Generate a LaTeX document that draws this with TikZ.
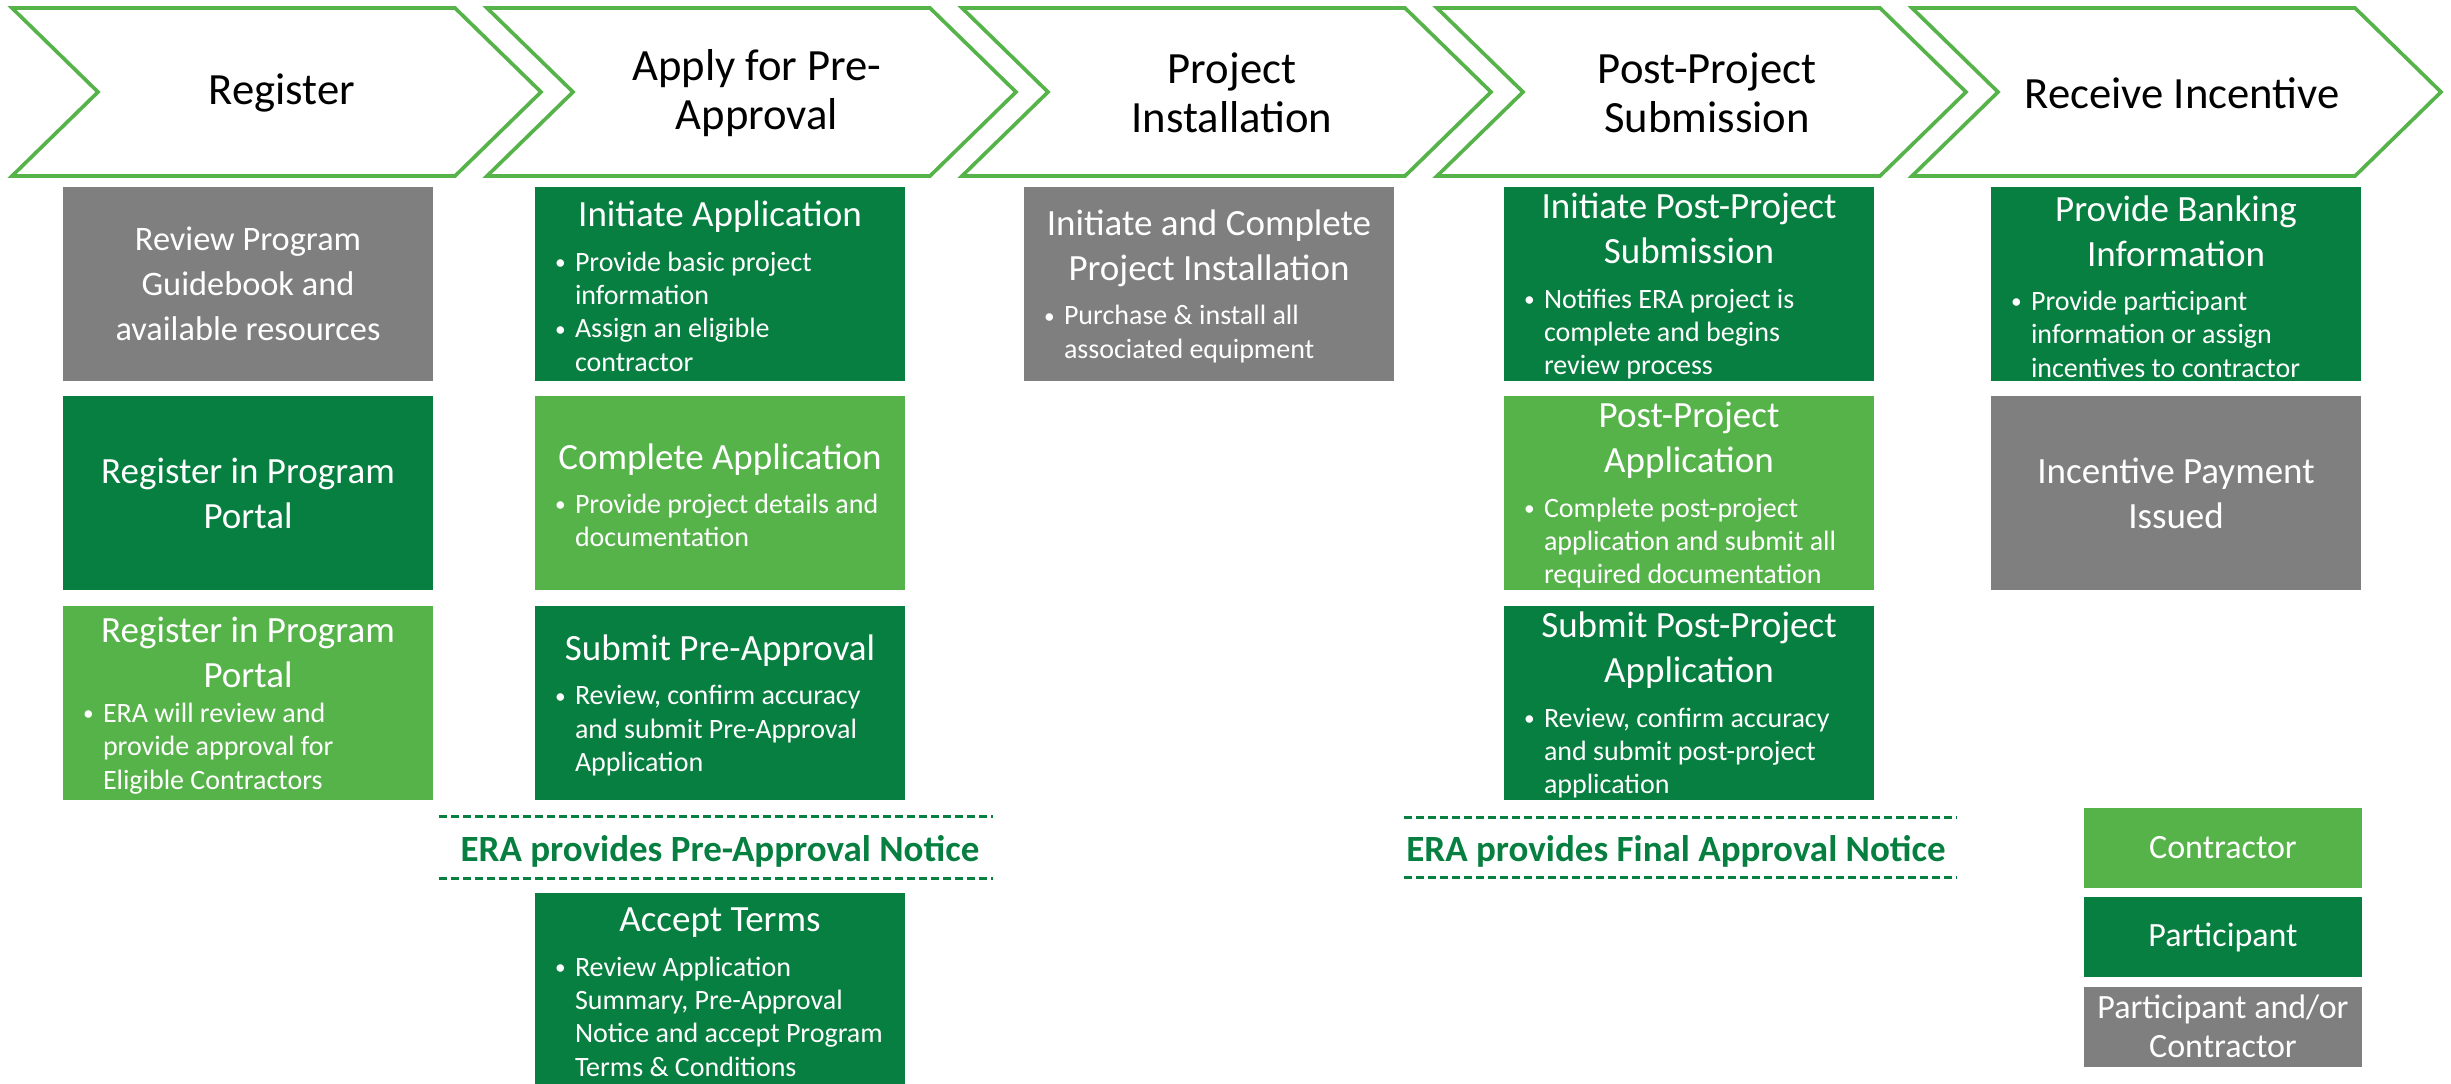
\documentclass[tikz,border=0pt]{standalone}
\usepackage{fontspec}
\setmainfont{Carlito}
\usepackage{tikz}

\definecolor{partgreen}{HTML}{077F40}
\definecolor{contgreen}{HTML}{56B34A}
\definecolor{bothgrey}{HTML}{7F7F7F}

% box contents: centred title, then bullet lines
\newcommand{\boxbody}[1]{\vbox to 0pt{\hsize=111pt\parindent=0pt\vss#1\vss}}
\newcommand{\boxttl}[2][11.1]{{\centering\fontsize{#1}{13.5}\selectfont #2\par}}
\newcommand{\boxitem}[1]{{\fontsize{8.4}{10}\selectfont\raggedright\leftskip=12pt\noindent
  \llap{\makebox[6pt][l]{\raisebox{0.5pt}{\fontsize{6.4}{6}\selectfont\textbullet}}}#1\par}}
\newcommand{\taskbody}[3][3.3pt]{\boxbody{\boxttl{#2}\vskip #1 #3\vskip -1.4pt}}

\begin{document}
\begin{tikzpicture}[x=0.3pt,y=0.3pt,yscale=-1,
  chev/.style={draw=contgreen,line width=1.1pt,line join=miter},
  phase/.style={align=center,inner sep=0pt,font=\fontsize{13.4}{14.8}\selectfont},
  task/.style={minimum width=111pt,minimum height=58.2pt,inner sep=0pt,text=white},
  notice/.style={inner sep=0pt,text=partgreen,font=\bfseries\fontsize{11.1}{13}\selectfont},
  notesep/.style={draw=partgreen,line width=0.9pt,dash pattern=on 2.4pt off 1.2pt},
  legendbox/.style={minimum width=83.4pt,minimum height=24pt,inner sep=0pt,text=white,align=center,font=\fontsize{10.2}{11.7}\selectfont}]
\useasboundingbox (0,0) rectangle (2451,1083);
\clip (0,0) rectangle (2451,1083);

% Chevrons
\foreach \L in {12,487,962,1437,1912}
  \draw[chev] (\L,8) -- ++(443,0) -- ++(86,84) -- ++(-86,84) -- ++(-443,0) -- ++(86,-84) -- cycle;

\node[phase] (register) at (282,93) {Register};
\node[phase] (preapproval) at (757,93) {Apply for Pre-\\Approval};
\node[phase] (installation) at (1232,93) {Project\\Installation};
\node[phase] (postproject) at (1707,93) {Post-Project\\Submission};
\node[phase] (incentive) at (2182,93) {Receive Incentive};

% Register
\node[task,fill=bothgrey] (review) at (248,284) {\boxbody{\boxttl[10.3]{Review Program\\Guidebook and\\available resources}}};
\node[task,fill=partgreen] (portal) at (248,493) {\boxbody{\boxttl{Register in Program\\Portal}}};
\node[task,fill=contgreen] (portalc) at (248,703) {\taskbody[0.6pt]{Register in Program\\Portal}
  {\boxitem{ERA will review and\\provide approval for\\Eligible Contractors}}};

% Apply for Pre-Approval
\node[task,fill=partgreen] (initapp) at (720,284) {\taskbody{Initiate Application}
  {\boxitem{Provide basic project\\information}\boxitem{Assign an eligible\\contractor}}};
\node[task,fill=contgreen] (compapp) at (720,493) {\taskbody{Complete Application}
  {\boxitem{Provide project details and\\documentation}}};
\node[task,fill=partgreen] (subpre) at (720,703) {\taskbody{Submit Pre-Approval}
  {\boxitem{Review, confirm accuracy\\and submit Pre-Approval\\Application}}};
\draw[notesep] (439,816) -- (993,816);
\node[notice] (prenote) at (720,851) {ERA provides Pre-Approval Notice};
\draw[notesep] (439,878) -- (993,878);
\node[task,fill=partgreen] (accept) at (720,990) {\taskbody{Accept Terms}
  {\boxitem{Review Application\\Summary, Pre-Approval\\Notice and accept Program\\Terms \& Conditions}}};

% Project Installation
\node[task,fill=bothgrey] (install) at (1209,284) {\taskbody{Initiate and Complete\\Project Installation}
  {\boxitem{Purchase \& install all\\associated equipment}}};

% Post-Project Submission
\node[task,fill=partgreen] (initpost) at (1689,284) {\taskbody{Initiate Post-Project\\Submission}
  {\boxitem{Notifies ERA project is\\complete and begins\\review process}}};
\node[task,fill=contgreen] (postapp) at (1689,493) {\taskbody{Post-Project\\Application}
  {\boxitem{Complete post-project\\application and submit all\\required documentation}}};
\node[task,fill=partgreen] (subpost) at (1689,703) {\taskbody{Submit Post-Project\\Application}
  {\boxitem{Review, confirm accuracy\\and submit post-project\\application}}};
\draw[notesep] (1404,817) -- (1957,817);
\node[notice] (finalnote) at (1676,851) {ERA provides Final Approval Notice};
\draw[notesep] (1404,877) -- (1957,877);

% Receive Incentive
\node[task,fill=partgreen] (banking) at (2176,284) {\taskbody{Provide Banking\\Information}
  {\boxitem{Provide participant\\information or assign\\incentives to contractor}}};
\node[task,fill=bothgrey] (payment) at (2176,493) {\boxbody{\boxttl{Incentive Payment\\Issued}}};

% Legend
\node[legendbox,fill=contgreen] (keycont) at (2223,848) {Contractor};
\node[legendbox,fill=partgreen] (keypart) at (2223,937) {Participant};
\node[legendbox,fill=bothgrey] (keyboth) at (2223,1026.5) {Participant and/or\\Contractor};

\end{tikzpicture}
\end{document}
